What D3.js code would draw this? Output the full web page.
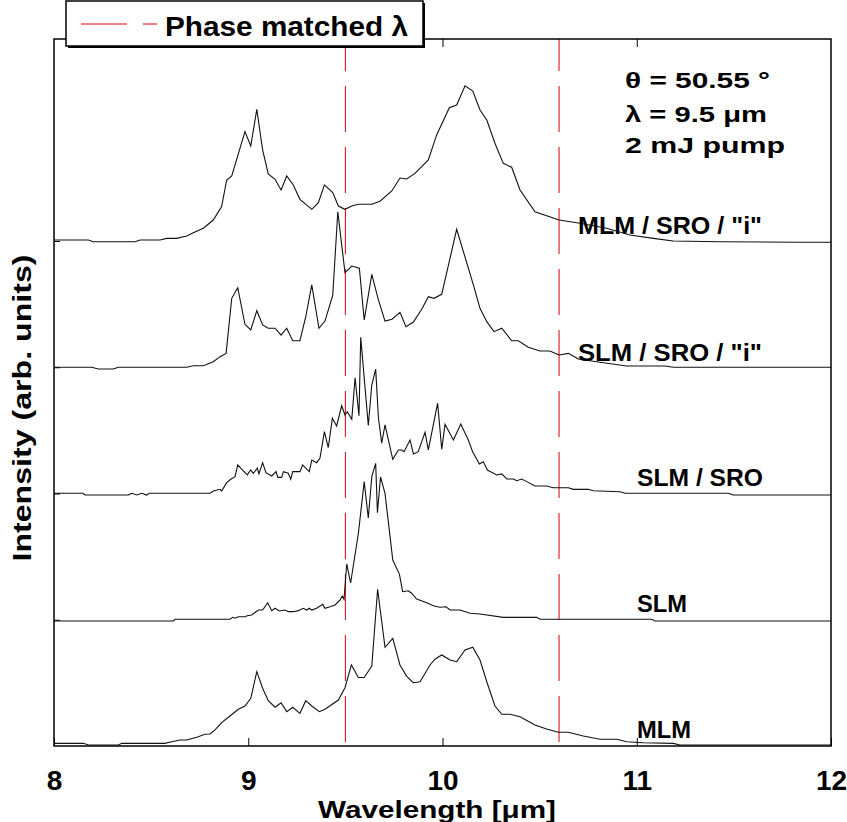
<!DOCTYPE html>
<html>
<head>
<meta charset="utf-8">
<script src="https://cdnjs.cloudflare.com/ajax/libs/d3/7.8.5/d3.min.js"></script>
<style>
  body { margin: 0; background: #fff; }
  svg text { font-family: "Liberation Sans", Arial, sans-serif; font-weight: bold; fill: #000; }
</style>
</head>
<body>
<div class="box"></div>
<script>
//////////////////données///////////////////////

const series = ['MLM / SRO / "i"', 'SLM / SRO / "i"', 'SLM / SRO', 'SLM', 'MLM'];
const offsets = [4, 3, 2, 1, 0];
const xTicks = [8, 9, 10, 11, 12];
const phaseLines = [9.5, 10.6];
const notes = ['θ = 50.55 °', 'λ = 9.5 μm', '2 mJ pump'];

// [longueur d'onde µm, intensité au-dessus de la ligne de base]
const mlmSroI = [[8.000,0.008],[8.177,0.008],[8.202,-0.006],[8.417,-0.006],[8.443,0.008],[8.546,0.008],[8.580,0.021],[8.632,0.021],[8.683,0.040],[8.717,0.066],[8.769,0.101],[8.820,0.166],[8.863,0.272],[8.889,0.483],[8.915,0.515],[8.983,0.866],[9.013,0.752],[9.044,1.043],[9.074,0.721],[9.103,0.531],[9.138,0.489],[9.169,0.404],[9.198,0.515],[9.232,0.444],[9.266,0.330],[9.327,0.251],[9.361,0.303],[9.392,0.444],[9.435,0.383],[9.464,0.277],[9.498,0.251],[9.533,0.277],[9.567,0.291],[9.636,0.291],[9.678,0.315],[9.739,0.396],[9.781,0.499],[9.816,0.491],[9.858,0.536],[9.927,0.642],[9.970,0.840],[10.035,1.056],[10.073,1.077],[10.116,1.230],[10.156,1.188],[10.193,1.038],[10.228,0.958],[10.270,0.774],[10.313,0.615],[10.356,0.584],[10.399,0.404],[10.476,0.232],[10.600,0.166],[10.708,0.140],[10.845,0.101],[10.965,0.048],[11.085,0.021],[11.188,0.000],[11.429,-0.006],[11.825,-0.010],[12.000,-0.010]];

const slmSroI = [[8.000,0.000],[8.194,0.000],[8.228,-0.014],[8.305,-0.014],[8.331,0.000],[8.683,0.000],[8.717,0.012],[8.769,0.012],[8.820,0.044],[8.855,0.084],[8.886,0.110],[8.915,0.546],[8.946,0.630],[8.983,0.340],[9.013,0.295],[9.044,0.448],[9.074,0.335],[9.103,0.309],[9.138,0.309],[9.169,0.255],[9.198,0.309],[9.229,0.210],[9.266,0.210],[9.296,0.400],[9.327,0.652],[9.364,0.309],[9.395,0.366],[9.435,0.572],[9.461,1.232],[9.498,0.749],[9.533,0.802],[9.572,0.784],[9.597,0.374],[9.636,0.736],[9.670,0.533],[9.704,0.366],[9.740,0.380],[9.781,0.435],[9.812,0.321],[9.850,0.358],[9.893,0.459],[9.927,0.559],[9.956,0.546],[9.996,0.578],[10.073,1.093],[10.159,0.652],[10.193,0.467],[10.228,0.361],[10.265,0.282],[10.305,0.309],[10.356,0.210],[10.390,0.210],[10.442,0.158],[10.502,0.129],[10.553,0.129],[10.600,0.097],[10.648,0.110],[10.699,0.065],[10.811,0.039],[10.948,0.010],[11.146,0.010],[11.188,0.000],[12.000,0.000]];

const slmSro = [[8.000,0.002],[8.148,0.002],[8.160,-0.012],[8.383,-0.012],[8.400,0.002],[8.426,-0.012],[8.452,0.002],[8.477,-0.012],[8.491,0.002],[8.803,0.002],[8.820,0.020],[8.855,0.033],[8.863,0.020],[8.889,0.086],[8.910,0.113],[8.932,0.133],[8.946,0.226],[8.966,0.194],[8.995,0.147],[9.013,0.186],[9.026,0.160],[9.047,0.200],[9.055,0.155],[9.074,0.244],[9.091,0.165],[9.121,0.139],[9.143,0.173],[9.152,0.128],[9.172,0.128],[9.181,0.173],[9.206,0.160],[9.219,0.113],[9.229,0.173],[9.266,0.173],[9.280,0.226],[9.314,0.173],[9.327,0.265],[9.352,0.244],[9.369,0.279],[9.392,0.490],[9.412,0.364],[9.433,0.596],[9.455,0.535],[9.481,0.695],[9.498,0.622],[9.510,0.648],[9.533,0.588],[9.550,0.917],[9.570,0.616],[9.579,1.237],[9.618,0.539],[9.636,0.859],[9.656,0.986],[9.670,0.602],[9.687,0.398],[9.704,0.543],[9.744,0.271],[9.773,0.345],[9.790,0.345],[9.802,0.331],[9.833,0.424],[9.850,0.313],[9.875,0.331],[9.910,0.485],[9.927,0.345],[9.975,0.715],[9.996,0.350],[10.013,0.548],[10.056,0.424],[10.094,0.551],[10.133,0.424],[10.155,0.331],[10.190,0.234],[10.210,0.252],[10.231,0.186],[10.279,0.147],[10.305,0.155],[10.331,0.115],[10.365,0.115],[10.382,0.101],[10.408,0.115],[10.434,0.094],[10.476,0.059],[10.536,0.059],[10.570,0.046],[10.648,0.046],[10.673,0.033],[10.751,0.033],[10.776,0.022],[10.914,0.014],[10.940,0.002],[11.471,0.002],[11.497,-0.012],[12.000,-0.012]];

const slm = [[8.000,-0.010],[8.614,-0.010],[8.623,0.004],[8.906,0.004],[8.920,0.019],[8.932,0.012],[8.949,0.024],[8.983,0.024],[8.995,0.032],[9.018,0.038],[9.052,0.077],[9.074,0.077],[9.100,0.135],[9.121,0.072],[9.138,0.091],[9.160,0.069],[9.189,0.077],[9.206,0.064],[9.232,0.064],[9.258,0.072],[9.283,0.091],[9.301,0.077],[9.314,0.091],[9.327,0.077],[9.352,0.091],[9.383,0.122],[9.395,0.091],[9.421,0.103],[9.447,0.117],[9.472,0.156],[9.484,0.188],[9.493,0.162],[9.507,0.442],[9.527,0.291],[9.567,0.685],[9.597,1.094],[9.618,0.806],[9.636,1.133],[9.656,1.239],[9.665,0.848],[9.681,1.131],[9.704,1.002],[9.744,0.473],[9.778,0.362],[9.795,0.222],[9.824,0.230],[9.841,0.210],[9.867,0.164],[9.919,0.135],[9.953,0.111],[9.987,0.099],[10.018,0.103],[10.039,0.077],[10.090,0.077],[10.142,0.051],[10.193,0.046],[10.313,0.019],[10.485,0.019],[10.502,0.004],[11.077,0.004],[11.094,-0.010],[12.000,-0.010]];

const mlm = [[8.000,0.021],[8.151,0.021],[8.177,0.008],[8.331,0.008],[8.349,0.021],[8.571,0.021],[8.606,0.034],[8.649,0.048],[8.683,0.048],[8.735,0.069],[8.777,0.093],[8.803,0.095],[8.829,0.127],[8.863,0.185],[8.906,0.238],[8.949,0.291],[8.983,0.317],[9.013,0.378],[9.044,0.589],[9.074,0.457],[9.103,0.359],[9.138,0.307],[9.169,0.343],[9.198,0.272],[9.229,0.307],[9.266,0.259],[9.296,0.359],[9.327,0.317],[9.366,0.272],[9.395,0.291],[9.464,0.364],[9.498,0.462],[9.531,0.642],[9.567,0.543],[9.597,0.543],[9.636,0.634],[9.666,1.241],[9.704,0.782],[9.744,0.853],[9.781,0.642],[9.816,0.552],[9.850,0.501],[9.884,0.509],[9.936,0.642],[9.961,0.687],[9.996,0.721],[10.039,0.681],[10.073,0.668],[10.116,0.760],[10.156,0.782],[10.193,0.681],[10.228,0.509],[10.270,0.317],[10.305,0.251],[10.348,0.251],[10.399,0.232],[10.476,0.166],[10.536,0.135],[10.596,0.109],[10.648,0.109],[10.725,0.079],[10.811,0.053],[10.897,0.053],[10.948,0.034],[11.034,0.026],[11.188,0.021],[11.223,0.008],[12.000,0.008]];

const spectres = [mlmSroI, slmSroI, slmSro, slm, mlm];


//////////////////mise en place///////////////////////

const dims = {left: 54, top: 39, width: 777, height: 707};

const svg = d3.select('.box')
              .append('svg')
              .attr('width', 847)
              .attr('height', 822);

const graph = svg.append('g')
                 .attr('transform', `translate(${dims.left}, ${dims.top})`);

const x = d3.scaleLinear()
            .domain([8, 12])
            .range([0, dims.width]);

const y = d3.scaleLinear()
            .domain([0, 5.6])
            .range([dims.height, 0]);

svg.append('clipPath')
   .attr('id', 'zone')
   .append('rect')
   .attr('width', dims.width)
   .attr('height', dims.height);


//////////////////lignes accord de phase///////////////////////

graph.selectAll('line.phase')
     .data(phaseLines)
     .enter()
     .append('line')
     .attr('class', 'phase')
     .attr('x1', d => x(d))
     .attr('x2', d => x(d))
     .attr('y1', 0)
     .attr('y2', dims.height)
     .attr('stroke', '#e00000')
     .attr('stroke-width', 1)
     .attr('stroke-dasharray', '46,15')
     .attr('stroke-dashoffset', 14);


//////////////////spectres///////////////////////

const ligne = d3.line()
                .x(d => x(d[0]))
                .y(d => y(d[1]));

graph.append('g')
     .attr('clip-path', 'url(#zone)')
     .selectAll('path')
     .data(spectres)
     .enter()
     .append('path')
     .attr('d', (d, i) => ligne(d.map(p => [p[0], p[1] + offsets[i]])))
     .attr('fill', 'none')
     .attr('stroke', '#111')
     .attr('stroke-width', 1.1);


//////////////////axes///////////////////////

const axeBas = d3.axisBottom(x)
                 .tickValues(xTicks)
                 .tickSize(-8)
                 .tickPadding(24)
                 .tickFormat(d3.format('d'));

const gBas = graph.append('g')
                  .attr('transform', `translate(0, ${dims.height})`)
                  .call(axeBas);

gBas.select('.domain').remove();
gBas.selectAll('text')
    .attr('font-size', 28)
    .attr('font-family', '"Liberation Sans", Arial, sans-serif')
    .attr('font-weight', 'bold');

const gHaut = graph.append('g')
                   .call(d3.axisTop(x).tickValues(xTicks.slice(1, -1)).tickSize(-8).tickFormat(''));
gHaut.select('.domain').remove();

const gGauche = graph.append('g')
                     .call(d3.axisLeft(y).tickValues(offsets.slice(0, -1)).tickSize(-6).tickFormat(''));
gGauche.select('.domain').remove();

graph.selectAll('.tick line')
     .attr('stroke', '#000')
     .attr('stroke-width', 1);

// cadre
graph.append('rect')
     .attr('width', dims.width)
     .attr('height', dims.height)
     .attr('fill', 'none')
     .attr('stroke', '#000')
     .attr('stroke-width', 1.5);


//////////////////titres des axes///////////////////////

svg.append('text')
   .attr('x', 437)
   .attr('y', 818)
   .attr('text-anchor', 'middle')
   .attr('font-size', 24.5)
   .attr('textLength', 238)
   .attr('lengthAdjust', 'spacingAndGlyphs')
   .text('Wavelength [μm]');

svg.append('text')
   .attr('transform', 'translate(31, 408) rotate(-90)')
   .attr('text-anchor', 'middle')
   .attr('font-size', 26)
   .attr('textLength', 307)
   .attr('lengthAdjust', 'spacingAndGlyphs')
   .text('Intensity (arb. units)');


//////////////////etiquettes des courbes///////////////////////

const etiquettes = [
    {x: 578, y: 234, w: 184},
    {x: 578, y: 361, w: 184},
    {x: 637, y: 486, w: 126},
    {x: 637, y: 612, w: 50},
    {x: 637, y: 738, w: 54}
];

svg.selectAll('text.etiq')
   .data(series)
   .enter()
   .append('text')
   .attr('class', 'etiq')
   .attr('x', (d, i) => etiquettes[i].x)
   .attr('y', (d, i) => etiquettes[i].y)
   .attr('font-size', 23)
   .attr('textLength', (d, i) => etiquettes[i].w)
   .attr('lengthAdjust', 'spacingAndGlyphs')
   .text(d => d);

const notePos = [{y: 88, w: 145}, {y: 122, w: 142}, {y: 153, w: 160}];

svg.selectAll('text.note')
   .data(notes)
   .enter()
   .append('text')
   .attr('class', 'note')
   .attr('x', 625)
   .attr('y', (d, i) => notePos[i].y)
   .attr('font-size', 22.5)
   .attr('textLength', (d, i) => notePos[i].w)
   .attr('lengthAdjust', 'spacingAndGlyphs')
   .text(d => d);


//////////////////legende///////////////////////

const groupeLegende = svg.append('g');

groupeLegende.append('rect')
             .attr('x', 68)
             .attr('y', 3)
             .attr('width', 357)
             .attr('height', 45)
             .attr('fill', '#000');

groupeLegende.append('rect')
             .attr('x', 66)
             .attr('y', 1)
             .attr('width', 357)
             .attr('height', 45)
             .attr('fill', '#fff')
             .attr('stroke', '#000')
             .attr('stroke-width', 1.5);

groupeLegende.append('line')
             .attr('x1', 81)
             .attr('x2', 157)
             .attr('y1', 24)
             .attr('y2', 24)
             .attr('stroke', '#e00000')
             .attr('stroke-width', 1)
             .attr('stroke-dasharray', '46,16');

groupeLegende.append('text')
             .attr('x', 165)
             .attr('y', 36)
             .attr('font-size', 27)
             .attr('textLength', 243)
             .attr('lengthAdjust', 'spacingAndGlyphs')
             .text('Phase matched λ');
</script>
</body>
</html>
